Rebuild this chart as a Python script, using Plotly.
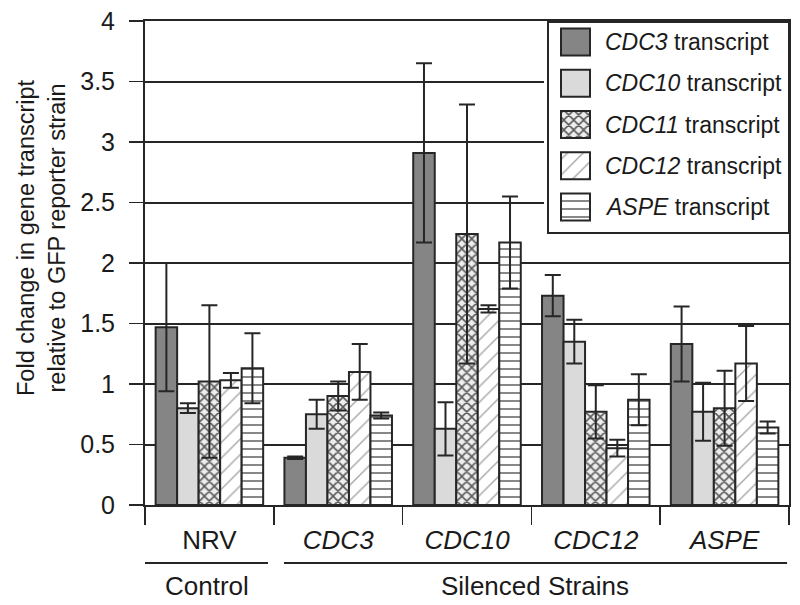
import plotly.graph_objects as go

# ---------------- data ----------------
categories = ["NRV", "CDC3", "CDC10", "CDC12", "ASPE"]
tick_text = ["NRV", "<i>CDC3</i>", "<i>CDC10</i>", "<i>CDC12</i>", "<i>ASPE</i>"]
series_names = ["CDC3", "CDC10", "CDC11", "CDC12", "ASPE"]

cdc3_vals = [1.47, 0.39, 2.91, 1.73, 1.33]
cdc3_err = [0.53, 0.01, 0.74, 0.17, 0.31]
cdc10_vals = [0.80, 0.75, 0.63, 1.35, 0.77]
cdc10_err = [0.04, 0.12, 0.22, 0.18, 0.24]
cdc11_vals = [1.02, 0.90, 2.24, 0.77, 0.80]
cdc11_err = [0.63, 0.12, 1.07, 0.22, 0.31]
cdc12_vals = [1.03, 1.10, 1.62, 0.47, 1.17]
cdc12_err = [0.06, 0.23, 0.03, 0.07, 0.31]
aspe_vals = [1.13, 0.74, 2.17, 0.87, 0.64]
aspe_err = [0.29, 0.025, 0.38, 0.21, 0.05]

y_ticks = [0, 0.5, 1, 1.5, 2, 2.5, 3, 3.5, 4]
group_labels = ["Control", "Silenced Strains"]

values = [cdc3_vals, cdc10_vals, cdc11_vals, cdc12_vals, aspe_vals]
errors = [cdc3_err, cdc10_err, cdc11_err, cdc12_err, aspe_err]

# ---------------- styles ----------------
FONT = "Liberation Sans, Arial, Helvetica, sans-serif"
INK = "#262626"
TXT = "#1a1a1a"
styles = [
    dict(color="#858585", pattern=dict(shape="")),
    dict(color="#dadada", pattern=dict(shape="")),
    dict(color="#ffffff", pattern=dict(shape="x", size=7, solidity=0.4,
                                       fgcolor="#5a5a5a", bgcolor="#eeeeee", fillmode="replace")),
    dict(color="#ffffff", pattern=dict(shape="/", size=11, solidity=0.13,
                                       fgcolor="#a8a8a8", bgcolor="#ffffff", fillmode="replace")),
    dict(color="#ffffff", pattern=dict(shape="-", size=8, solidity=0.2,
                                       fgcolor="#6a6a6a", bgcolor="#ffffff", fillmode="replace")),
]

W, H = 800, 605
# plot area in page pixels
PX0, PX1, PY0, PY1 = 145, 789, 21, 505
ML, MR, MT, MB = PX0, W - PX1, PY0, H - PY1
pw, ph = PX1 - PX0, PY1 - PY0


def paper_x(px):
    return (px - PX0) / pw


def paper_y(py):
    return (PY1 - py) / ph


fig = go.Figure()
for name, vals, errs, st in zip(series_names, values, errors, styles):
    fig.add_trace(go.Bar(
        x=categories, y=vals, name=name,
        marker=dict(color=st["color"], pattern=st["pattern"],
                    line=dict(color=INK, width=2)),
        error_y=dict(type="data", array=errs, visible=True,
                     color=INK, thickness=2, width=8),
        showlegend=False,
    ))

# ---------------- custom legend on an inset axis (page-pixel units) ----------------
lx0, lx1, ly0, ly1 = 548, 789, 22, 233  # legend box in px
dom_x = [paper_x(lx0 - 4), 1.0]
dom_y = [paper_y(ly1 + 4), 1.0]
x2_range = [PX0 + dom_x[0] * pw, PX0 + dom_x[1] * pw]
y2_range = [PY1 - dom_y[0] * ph, PY1 - dom_y[1] * ph]  # reversed pixel rows

row_y = [42, 83.25, 124.5, 165.75, 207]
sw_x0, sw_w, sw_h = 561, 29, 27

for name, ry, st in zip(series_names, row_y, styles):
    fig.add_trace(go.Bar(
        y=[ry], x=[sw_w], base=[sw_x0], orientation="h", width=sw_h,
        xaxis="x2", yaxis="y2", showlegend=False, hoverinfo="skip",
        name=name + " swatch",
        marker=dict(color=st["color"], pattern=st["pattern"],
                    line=dict(color=INK, width=2)),
    ))

shapes = [
    dict(type="rect", xref="x2", yref="y2", x0=lx0, x1=lx1, y0=ly0, y1=ly1,
         fillcolor="white", line=dict(color=INK, width=2), layer="below"),
    dict(type="line", xref="x", yref="paper", x0=-0.5, x1=0.455,
         y0=paper_y(563), y1=paper_y(563), line=dict(color=INK, width=2)),
    dict(type="line", xref="x", yref="paper", x0=0.579, x1=4.485,
         y0=paper_y(563), y1=paper_y(563), line=dict(color=INK, width=2)),
]

annotations = []
for nm, ry in zip(series_names, row_y):
    annotations.append(dict(
        xref="x2", yref="y2", x=603, y=ry, xanchor="left", yanchor="middle",
        text=f"<i>{nm}</i> transcript", showarrow=False,
        font=dict(family=FONT, size=23, color=TXT)))

annotations += [
    dict(xref="x", yref="paper", x=-0.02, y=paper_y(586), text=group_labels[0],
         showarrow=False, xanchor="center", yanchor="middle",
         font=dict(family=FONT, size=26, color=TXT)),
    dict(xref="x", yref="paper", x=2.53, y=paper_y(586), text=group_labels[1],
         showarrow=False, xanchor="center", yanchor="middle",
         font=dict(family=FONT, size=26, color=TXT)),
    dict(xref="paper", yref="paper", x=paper_x(41), y=paper_y(238),
         text="Fold change in gene transcript<br>relative to GFP reporter strain",
         textangle=-90, showarrow=False, xanchor="center", yanchor="middle",
         font=dict(family=FONT, size=23.5, color=TXT)),
]

fig.update_layout(
    width=W, height=H,
    margin=dict(l=ML, r=MR, t=MT, b=MB, pad=0),
    paper_bgcolor="white", plot_bgcolor="white",
    barmode="group", bargap=0.165, bargroupgap=0,
    font=dict(family=FONT, color=TXT),
    xaxis=dict(
        type="category", categoryorder="array", categoryarray=categories,
        tickmode="array", tickvals=categories, ticktext=tick_text,
        tickson="boundaries", ticks="outside", ticklen=18, tickwidth=1.5,
        tickcolor=INK, showgrid=False, showline=True, linecolor=INK,
        linewidth=2, mirror=True, ticklabelstandoff=11,
        tickfont=dict(family=FONT, size=26, color=TXT),
        range=[-0.5, 4.5], fixedrange=True, automargin=False,
    ),
    yaxis=dict(
        range=[0, 4], tickmode="array", tickvals=y_ticks,
        ticktext=[f"{v:g}" for v in y_ticks],
        ticks="outside", ticklen=14, tickwidth=1.5, tickcolor=INK,
        showgrid=True, gridcolor=INK, gridwidth=2, zeroline=False,
        showline=True, linecolor=INK, linewidth=2, mirror=True,
        ticklabelstandoff=9, ticklabeloverflow="allow",
        tickfont=dict(family=FONT, size=25, color=TXT), automargin=False,
    ),
    xaxis2=dict(domain=dom_x, range=x2_range, visible=False, anchor="y2",
                fixedrange=True),
    yaxis2=dict(domain=dom_y, range=y2_range, visible=False, anchor="x2",
                fixedrange=True),
    shapes=shapes,
    annotations=annotations,
)

fig.write_html(
    "out.html",
    config={"displayModeBar": False, "staticPlot": True},
    post_script="document.body.style.margin='0px';document.body.style.overflow='hidden';",
)
